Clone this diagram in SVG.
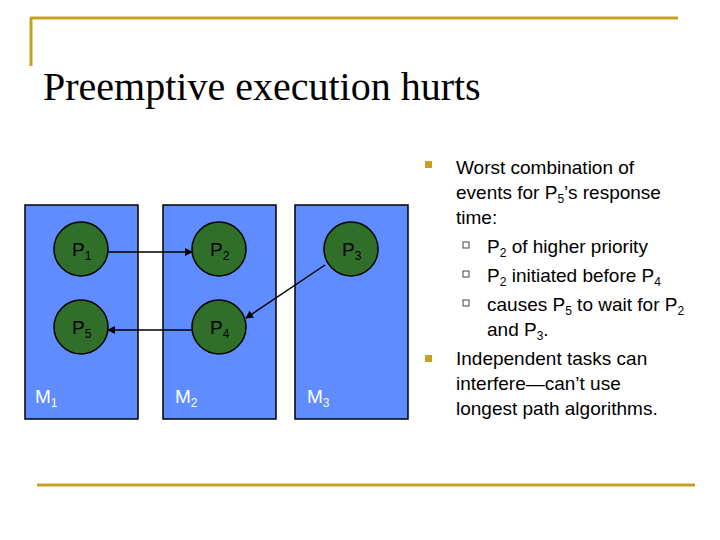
<svg xmlns="http://www.w3.org/2000/svg" width="720" height="540" viewBox="0 0 720 540">
<style>
.m{fill:#5f8cff;stroke:#000;stroke-width:1.5}
.p{fill:#2f6f2a;stroke:#000;stroke-width:1.5}
.t{font-family:"Liberation Sans",Arial,sans-serif;fill:#000}
.w{font-family:"Liberation Sans",Arial,sans-serif;fill:#fff;font-size:19px}
.c{stroke:#000;stroke-width:1.5;fill:none;marker-end:url(#a)}
.g{stroke:#c8a020;stroke-width:3}
</style>
<defs><marker id="a" markerWidth="8" markerHeight="8" refX="7" refY="4" orient="auto" markerUnits="userSpaceOnUse"><path d="M0,0 L8,4 L0,8z" fill="#000"/></marker></defs>
<rect width="720" height="540" fill="#fff"/>
<line class="g" x1="30" y1="18" x2="678" y2="18"/>
<line class="g" x1="31" y1="18" x2="31" y2="66"/>
<line class="g" x1="37" y1="485" x2="695" y2="485"/>
<text x="43" y="100" style="font-family:'Liberation Serif',serif;font-size:40px">Preemptive execution hurts</text>
<g id="M1"><rect class="m" x="25" y="205" width="113" height="214"/><text class="w" x="35" y="403">M<tspan font-size="12" dy="4">1</tspan></text></g>
<g id="M2"><rect class="m" x="163" y="205" width="113" height="214"/><text class="w" x="175" y="403">M<tspan font-size="12" dy="4">2</tspan></text></g>
<g id="M3"><rect class="m" x="295" y="205" width="113" height="214"/><text class="w" x="307" y="403">M<tspan font-size="12" dy="4">3</tspan></text></g>
<g id="P1"><circle class="p" cx="81" cy="249" r="27"/><text class="t" x="72" y="256" font-size="19">P<tspan font-size="12" dy="4">1</tspan></text></g>
<g id="P2"><circle class="p" cx="219" cy="249" r="27"/><text class="t" x="210" y="256" font-size="19">P<tspan font-size="12" dy="4">2</tspan></text></g>
<g id="P3"><circle class="p" cx="351" cy="249" r="27"/><text class="t" x="342" y="256" font-size="19">P<tspan font-size="12" dy="4">3</tspan></text></g>
<g id="P5"><circle class="p" cx="81" cy="327" r="27"/><text class="t" x="72" y="334" font-size="19">P<tspan font-size="12" dy="4">5</tspan></text></g>
<g id="P4"><circle class="p" cx="219" cy="327" r="27"/><text class="t" x="210" y="334" font-size="19">P<tspan font-size="12" dy="4">4</tspan></text></g>
<g id="connectors">
<line class="c" x1="108" y1="252" x2="192" y2="252"/>
<line class="c" x1="192" y1="330" x2="108" y2="330"/>
<line class="c" x1="325" y1="265" x2="246" y2="318"/>
</g>
<g class="t" font-size="19">
<rect x="425" y="161" width="7" height="7" fill="#c8a020"/>
<text x="456" y="174">Worst combination of</text>
<text x="456" y="199">events for P<tspan font-size="12" dy="4">5</tspan><tspan dy="-4">’s response</tspan></text>
<text x="456" y="224">time:</text>
<rect x="463" y="242" width="6" height="6" fill="none" stroke="#444"/>
<text x="487" y="253">P<tspan font-size="12" dy="4">2</tspan><tspan dy="-4"> of higher priority</tspan></text>
<rect x="463" y="271" width="6" height="6" fill="none" stroke="#444"/>
<text x="487" y="282">P<tspan font-size="12" dy="4">2</tspan><tspan dy="-4"> initiated before P</tspan><tspan font-size="12" dy="4">4</tspan></text>
<rect x="463" y="300" width="6" height="6" fill="none" stroke="#444"/>
<text x="487" y="311">causes P<tspan font-size="12" dy="4">5</tspan><tspan dy="-4"> to wait for P</tspan><tspan font-size="12" dy="4">2</tspan></text>
<text x="487" y="336">and P<tspan font-size="12" dy="4">3</tspan><tspan dy="-4">.</tspan></text>
<rect x="425" y="355" width="7" height="7" fill="#c8a020"/>
<text x="456" y="365">Independent tasks can</text>
<text x="456" y="390">interfere—can’t use</text>
<text x="456" y="415">longest path algorithms.</text>
</g>
</svg>
